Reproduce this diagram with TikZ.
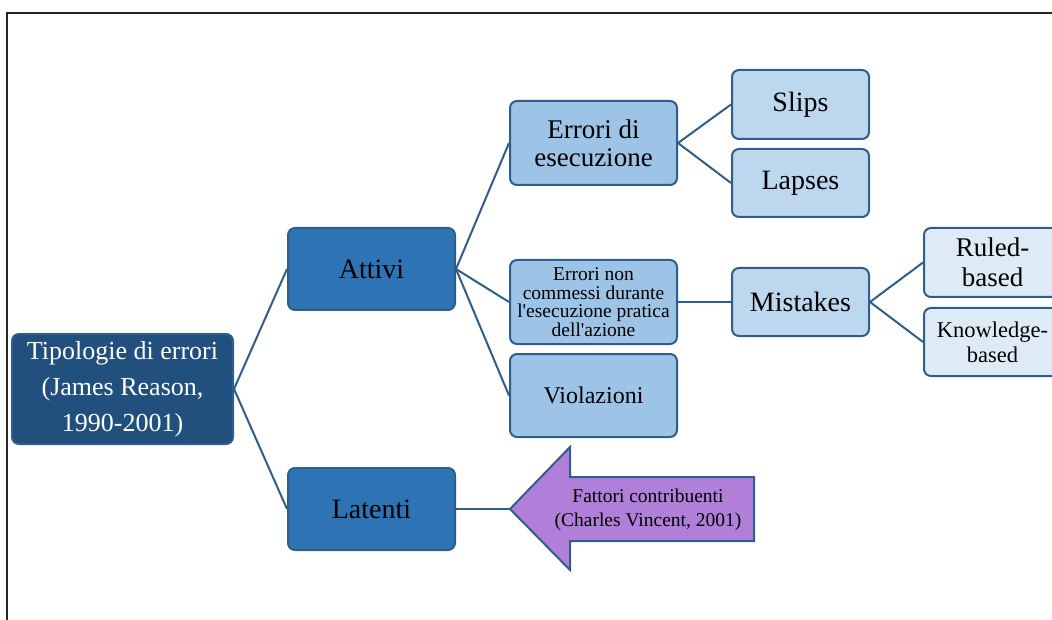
\documentclass[tikz,border=0pt]{standalone}
\usepackage{fontspec}
\setmainfont{Liberation Serif}
\definecolor{rootfill}{HTML}{22507E}
\definecolor{lvlone}{HTML}{2E74B5}
\definecolor{lvltwo}{HTML}{9DC3E6}
\definecolor{lvlthree}{HTML}{BDD7EE}
\definecolor{lvlfour}{HTML}{DEEBF7}
\definecolor{edge}{HTML}{2F5D8C}
\definecolor{arrowfill}{HTML}{B07FD9}
\tikzset{
  box/.style={draw=edge, line width=2pt, rounded corners=7pt, align=center,
    inner sep=2pt, text=black},
  link/.style={draw=edge, line width=2pt},
  fs/.style={font=\fontsize{#1}{#1}\selectfont},
}
\begin{document}
\begin{tikzpicture}[x=1pt,y=-1pt]
\useasboundingbox (0,0) rectangle (1052,620);
\clip (0,0) rectangle (1052,620);
% page frame
\draw[line width=1.5pt, black!85] (7,622) -- (7,13) -- (1054,13);

% root and first level
\node[box, fill=rootfill, text=white, minimum width=221pt, minimum height=110pt,
  font=\fontsize{26}{36}\selectfont] (root) at (122.5,389)
  {Tipologie di errori\\(James Reason,\\1990-2001)};
\node[box, fill=lvlone, minimum width=167pt, minimum height=82pt, fs=28] (attivi) at (371.5,269) {Attivi};
\node[box, fill=lvlone, minimum width=167pt, minimum height=82pt, fs=28] (latenti) at (371.5,509) {Latenti};

% second level
\node[box, fill=lvltwo, minimum width=167pt, minimum height=84pt,
  font=\fontsize{27}{28}\selectfont] (exec) at (593.5,143) {Errori di\\esecuzione};
\node[box, fill=lvltwo, minimum width=167pt, minimum height=84pt,
  font=\fontsize{19.5}{18.5}\selectfont] (noncomm) at (593.5,302)
  {Errori non\\commessi durante\\l\textquotesingle esecuzione pratica\\dell\textquotesingle azione};
\node[box, fill=lvltwo, minimum width=167pt, minimum height=83pt, fs=24] (viol) at (593.5,395.5) {Violazioni};

% third level
\node[box, fill=lvlthree, minimum width=137pt, minimum height=69pt, fs=28] (slips) at (800.5,104.5) {Slips};
\node[box, fill=lvlthree, minimum width=137pt, minimum height=68pt, fs=28] (lapses) at (800.5,183) {Lapses};
\node[box, fill=lvlthree, minimum width=137pt, minimum height=68pt, fs=28] (mistakes) at (800.5,302) {Mistakes};

% fourth level
\node[box, fill=lvlfour, minimum width=137pt, minimum height=69pt,
  font=\fontsize{27}{30}\selectfont] (ruled) at (992.5,262.5) {Ruled-\\based};
\node[box, fill=lvlfour, minimum width=137pt, minimum height=68pt,
  font=\fontsize{22.5}{25}\selectfont] (knowledge) at (992.5,342) {Knowledge-\\based};

% contributing factors arrow
\coordinate (tip) at (510,509);
\draw[draw=edge, line width=2pt, fill=arrowfill, line join=miter]
  (tip) -- (570,447) -- (570,477) -- (754,477) -- (754,541) -- (570,541) -- (570,570) -- cycle;
\node[align=center, font=\fontsize{19.5}{23.5}\selectfont, inner sep=0pt] (factors) at (648,510)
  {Fattori contribuenti\\(Charles Vincent, 2001)};

% connectors
\draw[link] (root.east) -- (attivi.west);
\draw[link] (root.east) -- (latenti.west);
\draw[link] (attivi.east) -- (exec.west);
\draw[link] (attivi.east) -- (noncomm.west);
\draw[link] (attivi.east) -- (viol.west);
\draw[link] (exec.east) -- (slips.west);
\draw[link] (exec.east) -- (lapses.west);
\draw[link] (noncomm.east) -- (mistakes.west);
\draw[link] (mistakes.east) -- (ruled.west);
\draw[link] (mistakes.east) -- (knowledge.west);
\draw[link] (latenti.east) -- (tip);
\end{tikzpicture}
\end{document}
